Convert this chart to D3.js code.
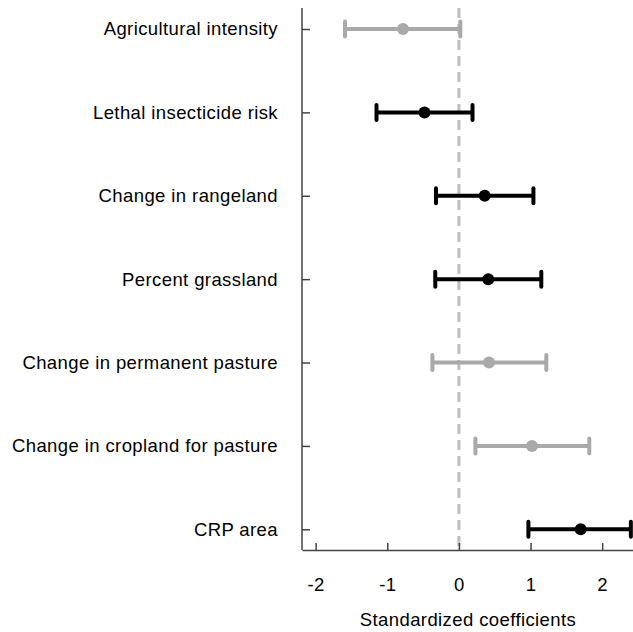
<!DOCTYPE html>
<html>
<head>
<meta charset="utf-8">
<script src="https://cdn.jsdelivr.net/npm/d3@7"></script>
<style>
  body { margin: 0; background: #fff; }
  svg { display: block; font-family: "Liberation Sans", Arial, sans-serif; }
</style>
</head>
<body>
<div id="chart"></div>
<script>
var variables = ["Agricultural intensity", "Lethal insecticide risk", "Change in rangeland",
  "Percent grassland", "Change in permanent pasture", "Change in cropland for pasture", "CRP area"];
var estimates = [-0.78, -0.48, 0.36, 0.41, 0.42, 1.02, 1.70];
var lowerCI = [-1.59, -1.15, -0.32, -0.33, -0.37, 0.23, 0.97];
var upperCI = [0.02, 0.19, 1.04, 1.15, 1.22, 1.82, 2.40];
var significant = [false, true, true, true, false, false, true];
var xTicks = [-2, -1, 0, 1, 2];

var width = 633, height = 632;
var margin = { top: 8, right: 0, bottom: 82, left: 302 };
var fontSize = 18.5;

var svg = d3.select("#chart").append("svg")
  .attr("width", width)
  .attr("height", height);

var x = d3.scaleLinear()
  .domain([-2.19, 2.43])
  .range([margin.left, width - margin.right]);

var y = d3.scalePoint()
  .domain(variables)
  .range([29, 529.3]);

var plotBottom = height - margin.bottom;

// zero reference line
svg.append("line")
  .attr("x1", x(0)).attr("x2", x(0))
  .attr("y1", margin.top).attr("y2", plotBottom)
  .attr("stroke", "#bdbdbd")
  .attr("stroke-width", 3)
  .attr("stroke-dasharray", "10,6");

// x axis
var xAxis = svg.append("g")
  .attr("transform", "translate(0," + plotBottom + ")")
  .call(d3.axisBottom(x).tickValues(xTicks).tickSizeInner(-7).tickSizeOuter(0).tickPadding(28)
    .tickFormat(d3.format("d")));
xAxis.select(".domain").attr("stroke", "#444").attr("stroke-width", 1.5);
xAxis.selectAll(".tick line").attr("stroke", "#444").attr("stroke-width", 1.5);
xAxis.selectAll(".tick text").attr("font-size", fontSize).attr("fill", "#000")
  .attr("font-family", "Liberation Sans, Arial, sans-serif")
  .style("letter-spacing", "0.4px")
  .text(function(d) { return d < 0 ? "-" + Math.abs(d) : d; });

// y axis
var yAxis = svg.append("g")
  .attr("transform", "translate(" + margin.left + ",0)")
  .call(d3.axisLeft(y).tickSizeInner(-8).tickSizeOuter(0).tickPadding(24));
yAxis.select(".domain")
  .attr("d", "M0," + margin.top + "V" + plotBottom)
  .attr("stroke", "#444").attr("stroke-width", 1.5);
yAxis.selectAll(".tick line").attr("stroke", "#444").attr("stroke-width", 1.5);
yAxis.selectAll(".tick text").attr("font-size", fontSize).attr("fill", "#000")
  .attr("font-family", "Liberation Sans, Arial, sans-serif")
  .style("letter-spacing", "0.4px");

// axis title
svg.append("text")
  .attr("x", 468)
  .attr("y", 626)
  .attr("text-anchor", "middle")
  .attr("font-size", fontSize)
  .style("letter-spacing", "0.4px")
  .text("Standardized coefficients");

// error bars
var rows = variables.map(function(v, i) {
  return { name: v, est: estimates[i], lo: lowerCI[i], hi: upperCI[i], sig: significant[i] };
});
function colorOf(d) { return d.sig ? "#000" : "#a9a9a9"; }

var g = svg.append("g");
var bar = g.selectAll("g.bar").data(rows).enter().append("g").attr("class", "bar");
bar.append("line")
  .attr("x1", function(d) { return x(d.lo); })
  .attr("x2", function(d) { return x(d.hi); })
  .attr("y1", function(d) { return y(d.name); })
  .attr("y2", function(d) { return y(d.name); })
  .attr("stroke", colorOf).attr("stroke-width", 4);
["lo", "hi"].forEach(function(k) {
  bar.append("line")
    .attr("x1", function(d) { return x(d[k]); })
    .attr("x2", function(d) { return x(d[k]); })
    .attr("y1", function(d) { return y(d.name) - 7.5; })
    .attr("y2", function(d) { return y(d.name) + 7.5; })
    .attr("stroke", colorOf).attr("stroke-width", 4)
    .attr("stroke-linecap", "round");
});
bar.append("circle")
  .attr("cx", function(d) { return x(d.est); })
  .attr("cy", function(d) { return y(d.name); })
  .attr("r", 6)
  .attr("fill", colorOf);
</script>
</body>
</html>
